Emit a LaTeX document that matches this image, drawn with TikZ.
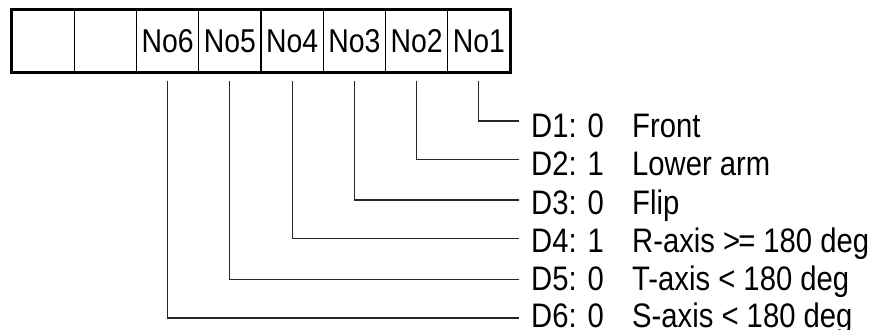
\documentclass[tikz,border=0pt]{standalone}
\usepackage{fontspec}
\setmainfont{Liberation Sans}[FakeStretch=0.86]
\begin{document}
\begin{tikzpicture}[x=1pt,y=-1pt,
  cell/.style={draw,line width=1.1pt,minimum width=62.25pt,minimum height=62pt,inner sep=0pt,
    font=\fontsize{33}{33}\selectfont},
  code/.style={anchor=base west,inner sep=0pt,font=\fontsize{34}{34}\selectfont},
  desc/.style={anchor=base west,inner sep=0pt,font=\fontsize{34}{34}\selectfont},
  conn/.style={draw,line width=1.1pt,black!85}]
\useasboundingbox (0,0) rectangle (874,329);
\foreach \i/\t in {1/,2/,3/No6,4/No5,5/No4,6/No3,7/No2,8/No1}{
  \node[cell] (c\i) at ({12+(\i-0.5)*62.25},41) {\t};
}
\draw[line width=2pt] (c1.north west) rectangle (c8.south east);
\foreach \k/\y/\bl/\a/\b in {1/121/137/{D1: 0}/Front,2/159.5/175.5/{D2: 1}/Lower arm,3/200/214/{D3: 0}/Flip,
  4/238.5/252/{D4: 1}/{R-axis >\kern-2pt= 180 deg},5/279.5/290.5/{D5: 0}/{T-axis < 180 deg},6/318/327/{D6: 0}/{S-axis < 180 deg}}{
  \coordinate (e\k) at (519,\y);
  \node[code] (d\k) at (531,\bl) {\a};
  \node[desc] (v\k) at (632,\bl) {\b};
}
\foreach \k/\c in {1/8,2/7,3/6,4/5,5/4,6/3}{
  \draw[conn] ([yshift=-8pt]c\c.south) |- (e\k);
}
\end{tikzpicture}
\end{document}
